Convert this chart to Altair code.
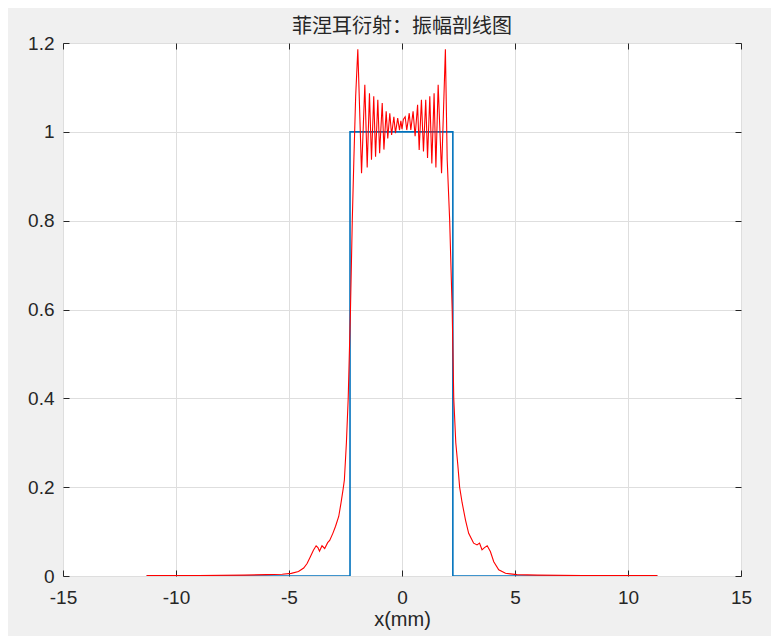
import altair as alt
import pandas as pd

# Blue: aperture (rectangular) profile
blue_x = [-11.3, -2.3, -2.3, 2.25, 2.25, 11.3]
blue_y = [0.0, 0.0, 1.0, 1.0, 0.0, 0.0]

# Red: Fresnel diffraction amplitude profile
red_x = [-11.3, -9.0, -7.0, -6.0, -5.3, -4.9, -4.58, -4.35, -4.2, -4.06, -3.92,
         -3.80, -3.72, -3.65, -3.54, -3.42, -3.29, -3.20, -3.06, -2.94, -2.80,
         -2.70, -2.61, -2.55, -2.46, -2.38, -2.28, -2.20, -2.13, -2.05, -1.955,
         -1.79, -1.645, -1.54, -1.44, -1.35, -1.25, -1.17, -1.07, -0.99, -0.875,
         -0.80, -0.70, -0.63, -0.54, -0.46, -0.36, -0.29, -0.19, -0.11, -0.05,
         0.0, 0.06, 0.14, 0.21, 0.32, 0.39, 0.49, 0.58, 0.69, 0.76, 0.86, 0.95,
         1.05, 1.13, 1.23, 1.32, 1.42, 1.50, 1.60, 1.75, 1.92, 2.0, 2.11, 2.22,
         2.29, 2.38, 2.47, 2.55, 2.66, 2.81, 2.95, 3.10, 3.17, 3.32, 3.43, 3.54,
         3.65, 3.77, 3.91, 4.06, 4.28, 4.58, 5.09, 6.0, 8.0, 11.3]
red_y = [0.001, 0.001, 0.002, 0.003, 0.004, 0.006, 0.010, 0.018, 0.028, 0.043, 0.058,
         0.068, 0.064, 0.056, 0.068, 0.062, 0.075, 0.080, 0.096, 0.112, 0.134,
         0.164, 0.194, 0.216, 0.30, 0.40, 0.60, 0.80, 0.937, 1.08, 1.186,
         0.907, 1.106, 0.920, 1.087, 0.937, 1.080, 0.944, 1.072, 0.952, 1.065,
         0.960, 1.046, 0.985, 1.042, 0.993, 1.034, 0.997, 1.031, 1.004, 1.025,
         1.006, 1.028, 1.034, 1.004, 1.042, 1.004, 1.046, 0.990, 1.061, 0.959, 1.072, 0.956,
         1.072, 0.941, 1.080, 0.929, 1.087, 0.920, 1.106, 0.907, 1.186, 0.937, 0.80, 0.60,
         0.40, 0.30, 0.25, 0.20, 0.165, 0.126, 0.096, 0.081, 0.074, 0.070, 0.074, 0.059,
         0.064, 0.068, 0.055, 0.032, 0.014, 0.006, 0.003, 0.002, 0.001, 0.001]

x_ticks = [-15, -10, -5, 0, 5, 10, 15]
y_ticks = [0, 0.2, 0.4, 0.6, 0.8, 1, 1.2]

blue_df = pd.DataFrame({"x": blue_x, "y": blue_y, "i": list(range(len(blue_x)))})
red_df = pd.DataFrame({"x": red_x, "y": red_y, "i": list(range(len(red_x)))})

xscale = alt.Scale(domain=[-15, 15], nice=False, zero=False)
yscale = alt.Scale(domain=[0, 1.2], nice=False)

ink = "#262626"

blue = alt.Chart(blue_df).mark_line(color="#0072BD", strokeWidth=1.6, clip=True).encode(
    x=alt.X("x:Q", scale=xscale, title="x(mm)",
            axis=alt.Axis(orient="bottom", values=x_ticks, labelExpr="toString(datum.value)",
                          grid=True, ticks=True, offset=-6, tickSize=6, labelPadding=12,
                          labelFlush=False, labelOverlap=False, titlePadding=2)),
    y=alt.Y("y:Q", scale=yscale, title=None,
            axis=alt.Axis(orient="left", values=y_ticks, labelExpr="toString(datum.value)",
                          grid=True, ticks=True, offset=-6, tickSize=6, labelPadding=9,
                          labelFlush=False, labelOverlap=False)),
    order=alt.Order("i:Q"),
)

red = alt.Chart(red_df).mark_line(color="#ff0000", strokeWidth=1.1, clip=True).encode(
    x=alt.X("x:Q", scale=xscale, title=None,
            axis=alt.Axis(orient="top", values=x_ticks, labels=False, grid=False,
                          ticks=True, offset=-6, tickSize=6)),
    y=alt.Y("y:Q", scale=yscale, title=None,
            axis=alt.Axis(orient="right", values=y_ticks, labels=False, grid=False,
                          ticks=True, offset=-6, tickSize=6)),
    order=alt.Order("i:Q"),
)

chart = (
    alt.layer(blue, red)
    .resolve_axis(x="independent", y="independent")
    .properties(
        width=678,
        height=533,
        title=alt.TitleParams("菲涅耳衍射：振幅剖线图", font="Noto Sans CJK SC", fontSize=20,
                              fontWeight="normal", color=ink, offset=0, dy=3),
        autosize=alt.AutoSizeParams(type="none"),
        padding={"left": 55, "top": 35, "right": 30, "bottom": 60},
        background="#f0f0f0",
    )
    .configure_view(fill="white", stroke=ink, strokeWidth=1)
    .configure_axis(
        domain=False,
        labelFont="Liberation Sans",
        labelFontSize=19,
        labelColor=ink,
        tickColor=ink,
        tickWidth=1,
        titleFont="Liberation Sans",
        titleFontSize=20,
        titleFontWeight="normal",
        titleColor=ink,
        gridColor="#dedede",
        gridWidth=1,
    )
)

chart.save("out.html", embed_options={"renderer": "svg", "actions": False})
